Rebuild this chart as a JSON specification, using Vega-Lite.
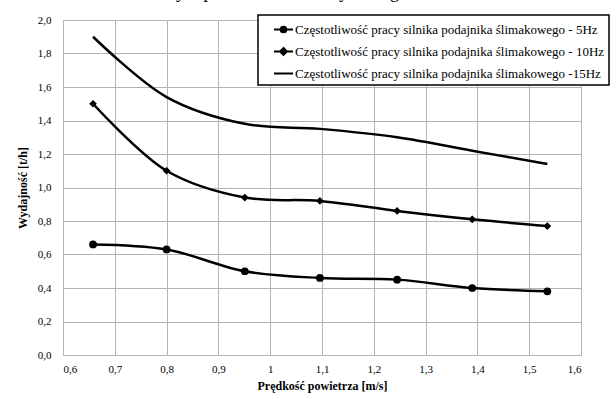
{
  "$schema": "https://vega.github.io/schema/vega-lite/v6.json",
  "autosize": "none",
  "width": 518,
  "height": 335,
  "padding": {"left": 63, "top": 20, "right": 35, "bottom": 44},
  "background": "white",
  "title": {
    "text": "świeżym piaskiem kwarcowym i regeneratem",
    "font": "'Liberation Serif', 'Times New Roman', 'DejaVu Serif', serif",
    "fontSize": 18,
    "fontWeight": "normal",
    "color": "black",
    "anchor": "middle",
    "baseline": "bottom",
    "offset": 5,
    "dy": 11,
    "dx": -22
  },
  "data": {
    "values": [
      {"v": 0.658, "w": 0.66, "s": "Częstotliwość pracy silnika podajnika ślimakowego - 5Hz"},
      {"v": 0.800, "w": 0.63, "s": "Częstotliwość pracy silnika podajnika ślimakowego - 5Hz"},
      {"v": 0.951, "w": 0.50, "s": "Częstotliwość pracy silnika podajnika ślimakowego - 5Hz"},
      {"v": 1.096, "w": 0.46, "s": "Częstotliwość pracy silnika podajnika ślimakowego - 5Hz"},
      {"v": 1.245, "w": 0.45, "s": "Częstotliwość pracy silnika podajnika ślimakowego - 5Hz"},
      {"v": 1.390, "w": 0.40, "s": "Częstotliwość pracy silnika podajnika ślimakowego - 5Hz"},
      {"v": 1.535, "w": 0.38, "s": "Częstotliwość pracy silnika podajnika ślimakowego - 5Hz"},
      {"v": 0.658, "w": 1.50, "s": "Częstotliwość pracy silnika podajnika ślimakowego - 10Hz"},
      {"v": 0.800, "w": 1.10, "s": "Częstotliwość pracy silnika podajnika ślimakowego - 10Hz"},
      {"v": 0.951, "w": 0.94, "s": "Częstotliwość pracy silnika podajnika ślimakowego - 10Hz"},
      {"v": 1.096, "w": 0.92, "s": "Częstotliwość pracy silnika podajnika ślimakowego - 10Hz"},
      {"v": 1.245, "w": 0.86, "s": "Częstotliwość pracy silnika podajnika ślimakowego - 10Hz"},
      {"v": 1.390, "w": 0.81, "s": "Częstotliwość pracy silnika podajnika ślimakowego - 10Hz"},
      {"v": 1.535, "w": 0.77, "s": "Częstotliwość pracy silnika podajnika ślimakowego - 10Hz"},
      {"v": 0.658, "w": 1.90, "s": "Częstotliwość pracy silnika podajnika ślimakowego -15Hz"},
      {"v": 0.800, "w": 1.54, "s": "Częstotliwość pracy silnika podajnika ślimakowego -15Hz"},
      {"v": 0.951, "w": 1.38, "s": "Częstotliwość pracy silnika podajnika ślimakowego -15Hz"},
      {"v": 1.096, "w": 1.35, "s": "Częstotliwość pracy silnika podajnika ślimakowego -15Hz"},
      {"v": 1.245, "w": 1.30, "s": "Częstotliwość pracy silnika podajnika ślimakowego -15Hz"},
      {"v": 1.390, "w": 1.22, "s": "Częstotliwość pracy silnika podajnika ślimakowego -15Hz"},
      {"v": 1.535, "w": 1.14, "s": "Częstotliwość pracy silnika podajnika ślimakowego -15Hz"}
    ]
  },
  "encoding": {
    "x": {
      "field": "v", "type": "quantitative",
      "scale": {"domain": [0.6, 1.6], "nice": false, "zero": false},
      "axis": {
        "title": "Prędkość powietrza [m/s]",
        "values": [0.6, 0.7, 0.8, 0.9, 1.0, 1.1, 1.2, 1.3, 1.4, 1.5, 1.6],
        "labelExpr": "replace(toString(round(datum.value*10)/10), '.', ',')",
        "grid": true, "gridColor": "#b4b4b4", "gridWidth": 1,
        "domain": false, "ticks": false,
        "labelFontSize": 11, "labelColor": "black",
        "labelPadding": 8,
        "titleFontSize": 12, "titleFontWeight": "bold", "titleColor": "black",
        "titlePadding": 6
      }
    },
    "y": {
      "field": "w", "type": "quantitative",
      "scale": {"domain": [0, 2], "nice": false},
      "axis": {
        "title": "Wydajność [t/h]",
        "values": [0, 0.2, 0.4, 0.6, 0.8, 1.0, 1.2, 1.4, 1.6, 1.8, 2.0],
        "labelExpr": "replace(format(datum.value, '.1f'), '.', ',')",
        "grid": true, "gridColor": "#b4b4b4", "gridWidth": 1,
        "domain": false, "ticks": false,
        "labelFontSize": 11, "labelColor": "black",
        "labelPadding": 12,
        "titleFontSize": 12, "titleFontWeight": "bold", "titleColor": "black",
        "titlePadding": 8
      }
    }
  },
  "layer": [
    {
      "mark": {"type": "line", "interpolate": "catmull-rom", "color": "black", "strokeWidth": 2.5},
      "encoding": {"detail": {"field": "s"}}
    },
    {
      "transform": [{"filter": "indexof(datum.s, '15Hz') < 0"}],
      "mark": {"type": "point", "filled": true, "color": "black", "opacity": 1, "size": 60},
      "encoding": {
        "shape": {
          "field": "s", "type": "nominal",
          "scale": {
            "domain": ["Częstotliwość pracy silnika podajnika ślimakowego - 5Hz", "Częstotliwość pracy silnika podajnika ślimakowego - 10Hz"],
            "range": ["circle", "diamond"]
          },
          "legend": null
        }
      }
    },
    {
      "mark": {"type": "point", "filled": false, "color": "black", "opacity": 0, "strokeWidth": 2},
      "encoding": {
        "shape": {
          "field": "s", "type": "nominal",
          "scale": {
            "domain": ["Częstotliwość pracy silnika podajnika ślimakowego - 5Hz", "Częstotliwość pracy silnika podajnika ślimakowego - 10Hz", "Częstotliwość pracy silnika podajnika ślimakowego -15Hz"],
            "range": [
              "M-1,0L1,0M0.3,0A0.3,0.3,0,1,1,-0.3,0A0.3,0.3,0,1,1,0.3,0ZM0.15,0A0.15,0.15,0,1,1,-0.15,0A0.15,0.15,0,1,1,0.15,0Z",
              "M-1,0L1,0M0,-0.36L0.36,0L0,0.36L-0.36,0ZM0,-0.18L0.18,0L0,0.18L-0.18,0Z",
              "M-1,0L1,0"
            ]
          },
          "legend": {
            "title": null,
            "orient": "none",
            "legendX": 195,
            "legendY": -5,
            "padding": 4,
            "symbolOffset": 11,
            "symbolSize": 361,
            "symbolStrokeWidth": 2,
            "symbolStrokeColor": "black",
            "symbolFillColor": "black",
            "symbolOpacity": 1,
            "labelFontSize": 13,
            "labelColor": "black",
            "labelOffset": 1,
            "labelLimit": 400,
            "rowPadding": 4,
            "strokeColor": "black",
            "fillColor": "white"
          }
        }
      }
    }
  ],
  "resolve": {"scale": {"shape": "independent"}, "legend": {"shape": "independent"}},
  "config": {
    "view": {"stroke": "#a0a0a0", "strokeWidth": 1},
    "font": "'Liberation Serif', 'Times New Roman', 'DejaVu Serif', serif",
    "legend": {"strokeWidth": 1.5}
  }
}
